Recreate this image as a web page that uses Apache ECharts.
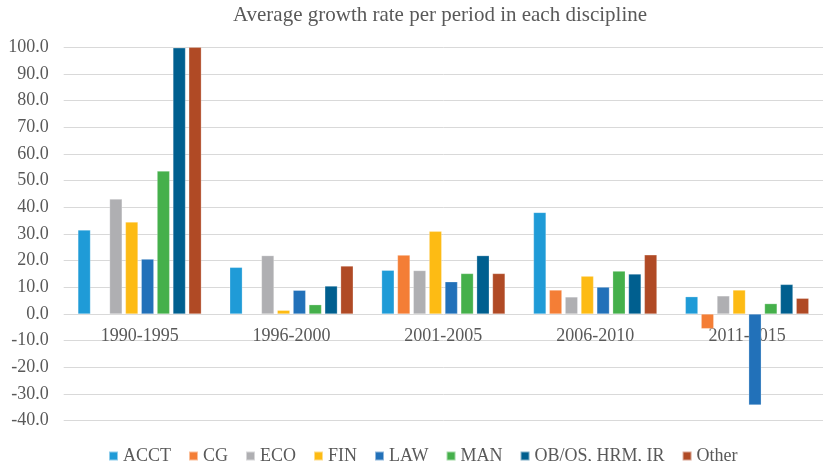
<!DOCTYPE html>
<html>
<head>
<meta charset="utf-8">
<script src="https://cdn.jsdelivr.net/npm/echarts@6/dist/echarts.min.js"></script>
<style>
  html, body { margin: 0; padding: 0; background: #fff; }
  #chart { width: 823px; height: 461px; }
</style>
</head>
<body>
<div id="chart"></div>
<script>
// periods on the x axis
const periods = ["1990-1995", "1996-2000", "2001-2005", "2006-2010", "2011-2015"];

// average growth rate per discipline (null = no bar)
const acct  = [31.5, 17.5, 16.4, 38.1, 6.5];
const cg    = [null, null, 22.1, 9.0, -5.5];
const eco   = [43.1, 21.9, 16.3, 6.4, 6.8];
const fin   = [34.5, 1.4, 31.0, 14.2, 9.0];
const law   = [20.6, 8.9, 12.1, 10.1, -34.1];
const man   = [53.6, 3.5, 15.2, 16.1, 3.9];
const obos  = [99.8, 10.5, 21.9, 15.0, 11.1];
const other = [100.0, 18.0, 15.2, 22.2, 5.9];

const seriesList = [
  { name: "ACCT", data: acct, color: "#1f9bd7" },
  { name: "CG", data: cg, color: "#f47e36" },
  { name: "ECO", data: eco, color: "#afafb2" },
  { name: "FIN", data: fin, color: "#fdbb14" },
  { name: "LAW", data: law, color: "#2271b9" },
  { name: "MAN", data: man, color: "#45b04b" },
  { name: "OB/OS, HRM, IR", data: obos, color: "#005f8f" },
  { name: "Other", data: other, color: "#b04a25" },
];

const chart = echarts.init(document.getElementById("chart"));
const grey = "#595959";
const font = "'Liberation Serif', 'Times New Roman', serif";

const option = {
  animation: false,
  title: {
    text: "Average growth rate per period in each discipline",
    left: 435,
    top: 0,
    textAlign: "center",
    textStyle: { fontFamily: font, fontSize: 21, fontWeight: "normal", color: grey },
  },
  legend: {
    left: 103,
    top: 442,
    itemWidth: 9,
    itemHeight: 9,
    itemGap: 17,
    icon: "rect",
    textStyle: { fontFamily: font, fontSize: 18, color: grey },
    data: seriesList.map(s => s.name),
  },
  grid: { left: 63.7, top: 47.3, width: 766.5, height: 373.4 },
  xAxis: {
    type: "category",
    data: periods,
    // labels sit just under the zero line, like the original
    axisLine: { show: false, onZero: false },
    axisTick: { show: false },
    axisLabel: { fontFamily: font, fontSize: 18, color: grey, margin: -93 },
  },
  yAxis: {
    type: "value",
    min: -40,
    max: 100,
    interval: 10,
    axisLine: { show: false },
    axisTick: { show: false },
    splitLine: { lineStyle: { color: "#d9d9d9" } },
    axisLabel: {
      fontFamily: font, fontSize: 18, color: grey, margin: 15,
      formatter: v => v.toFixed(1),
    },
  },
  series: seriesList.map(s => ({
    name: s.name,
    type: "bar",
    data: s.data,
    barGap: "26%",
    barCategoryGap: "18.7%",
    itemStyle: { color: s.color, borderColor: "rgba(255,255,255,0.5)", borderWidth: 0.5 },
  })),
};

chart.setOption(option);
</script>
</body>
</html>
